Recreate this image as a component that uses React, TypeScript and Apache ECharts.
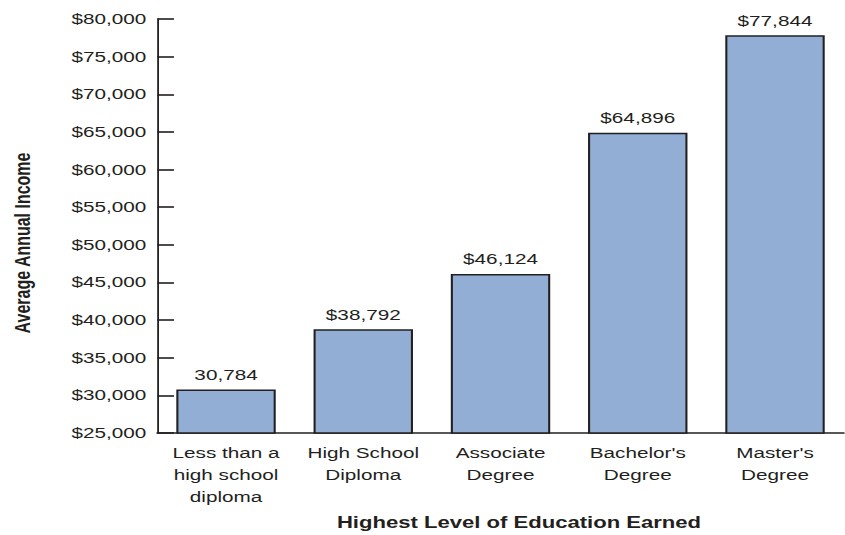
import React, { useEffect, useRef } from "react";
import * as echarts from "echarts";

const categories = [
  "Less than a\nhigh school\ndiploma",
  "High School\nDiploma",
  "Associate\nDegree",
  "Bachelor's\nDegree",
  "Master's\nDegree",
];
const incomes = [30784, 38792, 46124, 64896, 77844];
const valueLabels = ["30,784", "$38,792", "$46,124", "$64,896", "$77,844"];
const yMin = 25000;
const yMax = 80000;
const yStep = 5000;
const yTitle = "Average Annual Income";
const xTitle = "Highest Level of Education Earned";

const OUT_W = 845;
const OUT_H = 535;
const IN_W = 612;
const SX = OUT_W / IN_W;

const INK = "#231f20";
const FONT = "'Liberation Sans', Arial, Helvetica, sans-serif";

function fmtMoney(v: number): string {
  const s = Math.round(v).toString().replace(/\B(?=(\d{3})+(?!\d))/g, ",");
  return "$" + s;
}

export default function App() {
  const ref = useRef<HTMLDivElement>(null);

  useEffect(() => {
    if (!ref.current) return;
    const chart = echarts.init(ref.current, null, { renderer: "svg" });
    chart.setOption({
      animation: false,
      backgroundColor: "#ffffff",
      textStyle: { fontFamily: FONT },
      grid: { left: 114, right: 1, top: 19, bottom: 102, containLabel: false },
      xAxis: {
        type: "category",
        data: categories,
        axisLine: { show: true, lineStyle: { color: INK, width: 1.7 } },
        axisTick: { show: false },
        axisLabel: {
          color: INK,
          fontSize: 15,
          fontFamily: FONT,
          lineHeight: 22,
          margin: 9,
          interval: 0,
        },
        splitLine: { show: false },
      },
      yAxis: {
        type: "value",
        min: yMin,
        max: yMax,
        interval: yStep,
        axisLine: { show: true, lineStyle: { color: INK, width: 1.3 } },
        axisTick: {
          show: true,
          inside: true,
          length: 12,
          lineStyle: { color: INK, width: 1.6 },
        },
        axisLabel: {
          color: INK,
          fontSize: 15,
          fontFamily: FONT,
          margin: 8,
          formatter: (v: number) => fmtMoney(v),
        },
        splitLine: { show: false },
      },
      series: [
        {
          type: "bar",
          data: incomes,
          barWidth: 72,
          itemStyle: {
            color: "#92aed5",
            borderColor: INK,
            borderWidth: 1.5,
          },
          label: {
            show: true,
            position: "top",
            distance: 7,
            color: INK,
            fontSize: 15,
            fontFamily: FONT,
            formatter: (p: any) => valueLabels[p.dataIndex],
          },
        },
      ],
      graphic: [
        {
          type: "text",
          x: 16,
          y: 243,
          rotation: Math.PI / 2,
          style: {
            text: yTitle,
            fill: INK,
            font: "bold 16px " + FONT,
            textAlign: "center",
            textVerticalAlign: "middle",
          },
        },
        {
          type: "text",
          x: 519 / SX,
          y: 523,
          style: {
            text: xTitle,
            fill: INK,
            font: "bold 16px " + FONT,
            textAlign: "center",
            textVerticalAlign: "middle",
          },
        },
      ],
    });
    return () => chart.dispose();
  }, []);

  return (
    <div
      style={{
        position: "fixed",
        left: 0,
        top: 0,
        width: OUT_W,
        height: OUT_H,
        overflow: "hidden",
        background: "#fff",
      }}
    >
      <div
        ref={ref}
        style={{
          width: IN_W,
          height: OUT_H,
          transform: `scaleX(${SX})`,
          transformOrigin: "0 0",
        }}
      />
    </div>
  );
}
